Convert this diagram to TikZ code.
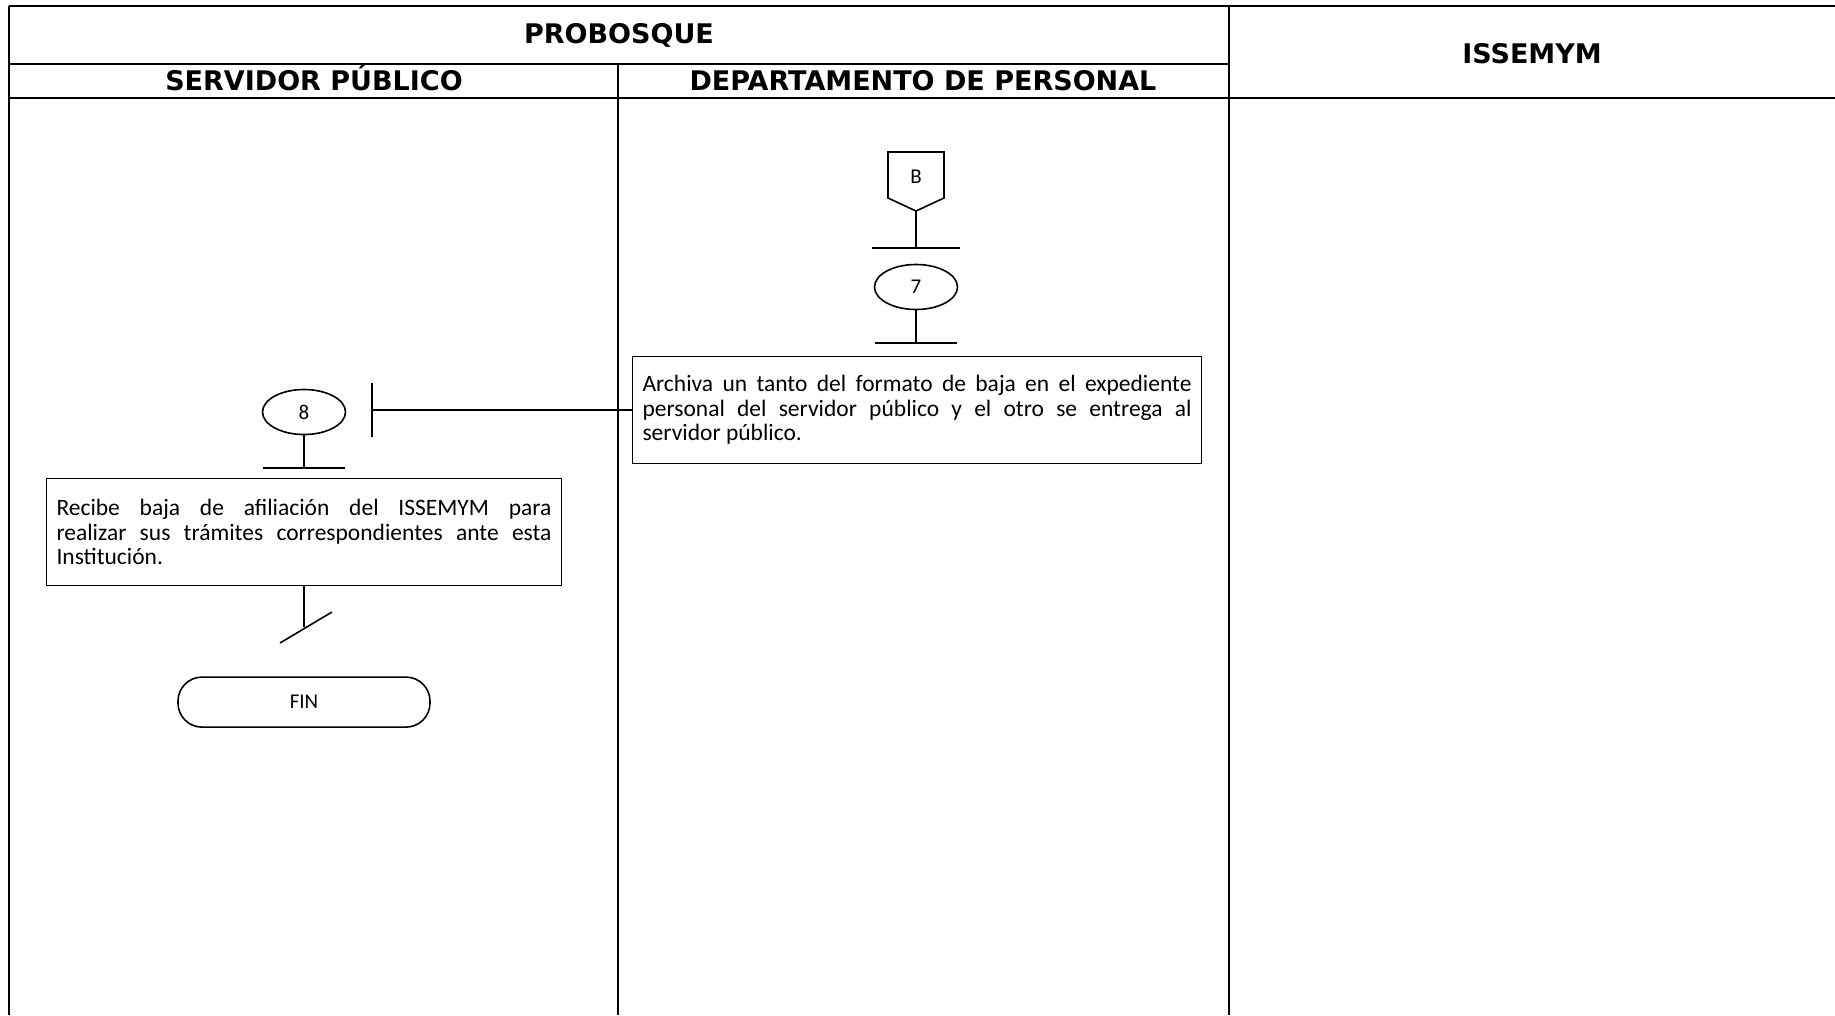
\documentclass[tikz,border=0pt]{standalone}
\usepackage{fontspec}
\setmainfont{Carlito}
\newfontfamily\headfont{DejaVu Sans}
\usetikzlibrary{positioning,shapes.geometric}

\begin{document}
\begin{tikzpicture}[x=1pt, y=-1pt,
  lane/.style={line width=1.6pt},
  rule/.style={line width=2.6pt},
  link/.style={line width=1.6pt},
  head/.style={anchor=base, font=\headfont\bfseries\fontsize{27}{30}\selectfont},
  task/.style={draw, line width=1.6pt, inner xsep=10pt, minimum height=107pt,
    align=justify, font=\fontsize{23.5}{24.5}\selectfont},
  stepno/.style={draw, ellipse, line width=1.6pt, minimum width=83pt,
    minimum height=45pt, inner sep=0pt, font=\fontsize{21}{24}\selectfont},
  endbox/.style={draw, line width=1.6pt, rounded corners=24pt, minimum width=252pt,
    minimum height=50pt, font=\fontsize{21}{24}\selectfont}]
  \useasboundingbox (0,0) rectangle (1835,1015);

  % lanes
  \draw[lane] (9,6) -- (9,1015);
  \draw[lane] (618,64) -- (618,1015);
  \draw[lane] (1229,6) -- (1229,1015);
  \draw[rule] (9,6) -- (1835,6);
  \draw[rule] (9,64) -- (1229,64);
  \draw[rule] (9,98) -- (1835,98);
  \node[head] (probosque) at (619,43) {PROBOSQUE};
  \node[head] (servidor) at (314,90) {SERVIDOR PÚBLICO};
  \node[head] (depto) at (923,90) {DEPARTAMENTO DE PERSONAL};
  \node[head] (issemym) at (1532,63) {ISSEMYM};

  % departamento de personal
  \node[font=\fontsize{21}{24}\selectfont] (conB) at (916,177) {B};
  \draw[link] ([shift={(-28,-25)}]conB.center) -- ++(56,0) -- ++(0,46)
    -- ++(-28,13) -- ++(-28,-13) -- cycle;
  \coordinate (tipB) at (916,211);
  \coordinate (barB) at (916,248);
  \draw[link] (tipB) -- (barB);
  \draw[link] ([xshift=-44pt]barB) -- ([xshift=44pt]barB);
  \node[stepno] (s7) at (916,287) {7};
  \coordinate (bar7) at (916,343);
  \draw[link] (s7) -- (bar7);
  \draw[link] ([xshift=-41pt]bar7) -- ([xshift=41pt]bar7);
  \node[task, text width=549pt] (t7) at (917,410)
    {Archiva un tanto del formato de baja en el expediente\linebreak
     personal del servidor público y el otro se entrega al\linebreak
     servidor público.};
  \coordinate (join8) at (372,410);
  \draw[link] (t7.west) -- (join8);
  \draw[link] ([yshift=27pt]join8) -- ([yshift=-27pt]join8);

  % servidor publico
  \node[stepno] (s8) at (304,412) {8};
  \coordinate (bar8) at (304,468);
  \draw[link] (s8) -- (bar8);
  \draw[link] ([xshift=-41pt]bar8) -- ([xshift=41pt]bar8);
  \node[task, text width=495pt] (t8) at (304,532)
    {Recibe baja de afiliación del ISSEMYM para\linebreak
     realizar sus trámites correspondientes ante esta\linebreak
     Institución.};
  \coordinate (cut) at (304,627);
  \draw[link] (t8) -- (cut);
  \draw[link] ([shift={(-24,16)}]cut) -- ([shift={(28,-15)}]cut);
  \node[endbox, below=90pt of t8] (fin) {FIN};
\end{tikzpicture}
\end{document}
